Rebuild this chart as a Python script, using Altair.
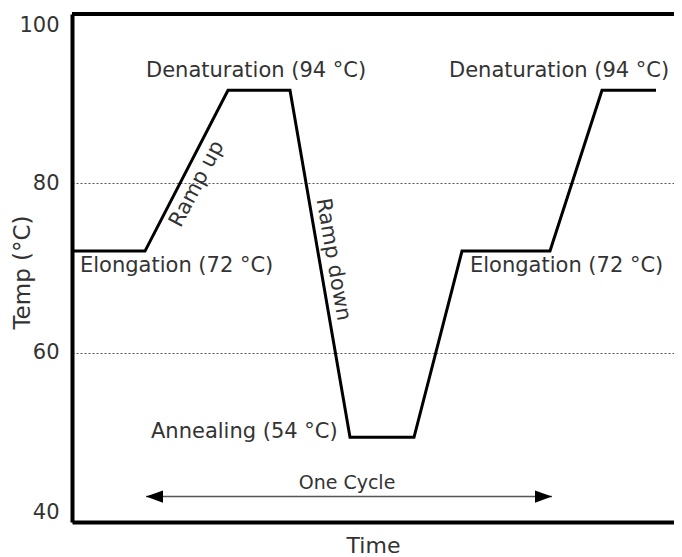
import altair as alt
import pandas as pd

# Temperature profile (time in arbitrary units, temperature in °C as drawn)
time_pts = [0, 73, 156, 218, 278, 342, 390, 478, 530, 584]
temp_pts = [72, 72, 91, 91, 50, 50, 72, 72, 91, 91]

# Stage labels
label_text = ["Denaturation (94 °C)", "Denaturation (94 °C)",
              "Elongation (72 °C)", "Elongation (72 °C)", "Annealing (54 °C)"]
label_time = [74, 377, 8, 398, 79]
label_temp = [93.3, 93.3, 70.2, 70.2, 50.6]

# Ramp labels
ramp_up_time, ramp_up_temp = 125, 79.9
ramp_down_time, ramp_down_temp = 261, 71.0

# One-cycle arrow
cycle_start, cycle_end = 74, 480
cycle_temp = 43
cycle_label_time, cycle_label_temp = 275, 44.6

x_domain = [0, 602]
y_domain = [40, 100]
y_ticks = [40, 60, 80, 100]

FONT = "DejaVu Sans"
TXT = "#333333"

xs = alt.Scale(domain=x_domain, nice=False, zero=False)
ys = alt.Scale(domain=y_domain, nice=False, zero=False)

x_axis = alt.Axis(
    title="Time", labels=False, ticks=False, grid=False,
    domainWidth=4, domainColor="black",
    titleFont=FONT, titleFontSize=22, titleFontWeight="normal", titleColor=TXT,
    titleBaseline="middle", titleY=23,
)
y_axis = alt.Axis(
    title="Temp (°C)", values=y_ticks, ticks=False,
    domainWidth=4, domainColor="black",
    labelFont=FONT, labelFontSize=21, labelColor=TXT, labelPadding=13,
    labelFlush=True,
    grid=True, gridDash=[2, 2], gridColor="#555555", gridWidth=1,
    titleFont=FONT, titleFontSize=23, titleFontWeight="normal", titleColor=TXT,
    titleAngle=270, titleAlign="center", titleBaseline="middle",
    titleX=-50, titleY=258,
)


def X(field):
    return alt.X(field, scale=xs, axis=x_axis, title="Time")


def Y(field):
    return alt.Y(field, scale=ys, axis=y_axis, title="Temp (°C)")


profile = pd.DataFrame({"time": time_pts, "temp": temp_pts})
labels = pd.DataFrame({"time": label_time, "temp": label_temp, "text": label_text})
ramp_up = pd.DataFrame({"time": [ramp_up_time], "temp": [ramp_up_temp], "text": ["Ramp up"]})
ramp_down = pd.DataFrame({"time": [ramp_down_time], "temp": [ramp_down_temp], "text": ["Ramp down"]})
arrow = pd.DataFrame({"time": [cycle_start], "t2": [cycle_end], "temp": [cycle_temp]})
heads = pd.DataFrame({
    "time": [cycle_start, cycle_end],
    "temp": [cycle_temp, cycle_temp],
    "shape": ["M0,0L1,-0.36L1,0.36Z", "M0,0L-1,-0.36L-1,0.36Z"],
})
cycle_lbl = pd.DataFrame({"time": [cycle_label_time], "temp": [cycle_label_temp], "text": ["One Cycle"]})

line = alt.Chart(profile).mark_line(
    color="black", strokeWidth=3, strokeJoin="miter", strokeCap="butt"
).encode(x=X("time:Q"), y=Y("temp:Q"))

top_rule = alt.Chart(profile).mark_rule(color="black", strokeWidth=4).encode(
    y=alt.datum(100, scale=ys, axis=y_axis, title="Temp (°C)")
)

stage_text = alt.Chart(labels).mark_text(
    align="left", baseline="middle", font=FONT, fontSize=21, color=TXT
).encode(x=X("time:Q"), y=Y("temp:Q"), text="text:N")

up_text = alt.Chart(ramp_up).mark_text(
    align="center", baseline="middle", font=FONT, fontSize=21, color=TXT, angle=297.7
).encode(x=X("time:Q"), y=Y("temp:Q"), text="text:N")

down_text = alt.Chart(ramp_down).mark_text(
    align="center", baseline="middle", font=FONT, fontSize=21, color=TXT, angle=80.2
).encode(x=X("time:Q"), y=Y("temp:Q"), text="text:N")

arrow_line = alt.Chart(arrow).mark_rule(color="#555555", strokeWidth=1.5).encode(
    x=X("time:Q"), x2="t2:Q", y=Y("temp:Q"),
)

arrow_heads = alt.Chart(heads).mark_point(
    filled=True, color="black", opacity=1, size=1156, strokeWidth=0
).encode(
    x=X("time:Q"), y=Y("temp:Q"),
    shape=alt.Shape("shape:N", scale=None),
)

cycle_text = alt.Chart(cycle_lbl).mark_text(
    align="center", baseline="middle", font=FONT, fontSize=19, color=TXT
).encode(x=X("time:Q"), y=Y("temp:Q"), text="text:N")

chart = alt.layer(
    line, top_rule, stage_text, up_text, down_text, arrow_line, arrow_heads, cycle_text
).properties(
    width=602, height=508,
    autosize=alt.AutoSizeParams(type="none"),
    padding={"left": 64, "top": 6, "right": 0, "bottom": 36},
    background="white",
).configure_view(stroke=None)

chart.save("out.html", embed_options={"renderer": "svg", "actions": False})
